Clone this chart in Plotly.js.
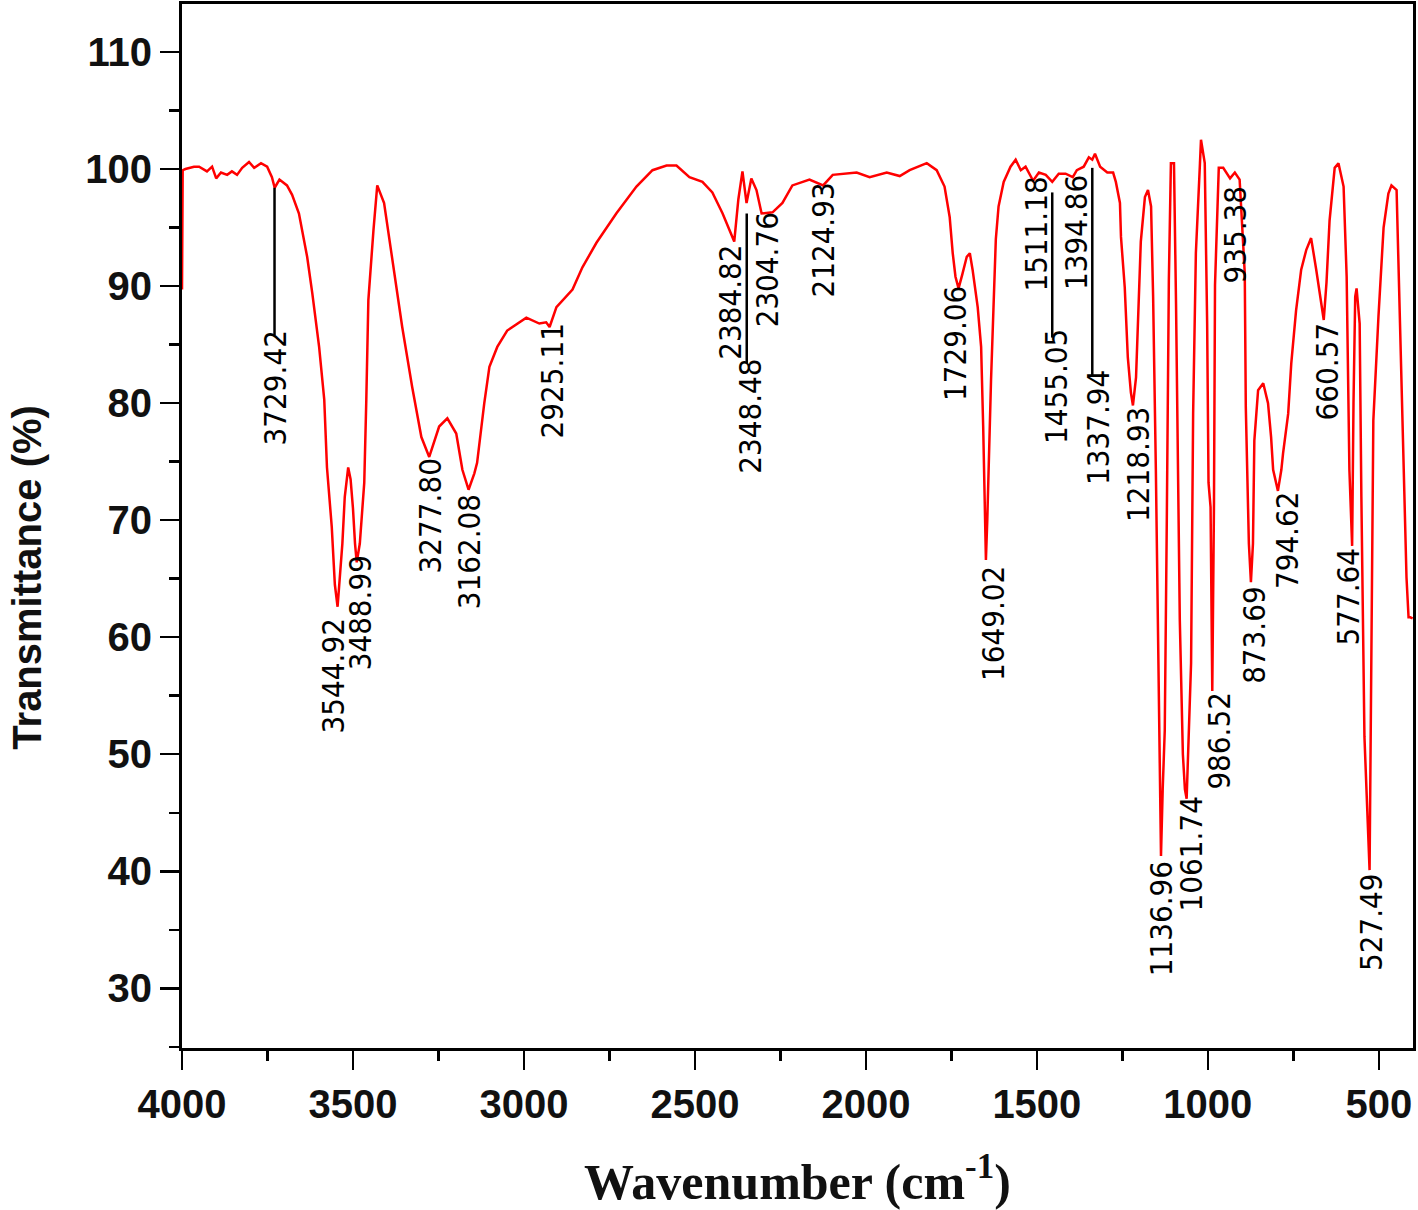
<!DOCTYPE html>
<html>
<head>
<meta charset="utf-8">
<script src="https://cdn.plot.ly/plotly-3.0.1.min.js"></script>
<style>
  html, body { margin: 0; padding: 0; background: #fff; }
  #ftir { width: 1418px; height: 1210px; }
</style>
</head>
<body>
<div id="ftir"></div>
<script>
// FTIR spectrum, values
var wavenumber = [
  4000, 3998, 3990, 3965, 3950, 3927, 3912, 3900, 3886, 3868, 3854, 3839, 3824, 3804, 3789, 3769, 3751, 3737,
  3729, 3715, 3693, 3678, 3658, 3649, 3634, 3619, 3599, 3584, 3576, 3562, 3553, 3545, 3538, 3531, 3524, 3514,
  3507, 3500, 3494, 3489, 3480, 3467, 3461, 3455, 3440, 3429, 3409, 3385, 3356, 3327, 3300, 3277, 3262, 3248,
  3224, 3198, 3180, 3162, 3145, 3137, 3116, 3101, 3078, 3049, 2993, 2955, 2935, 2925, 2905, 2858, 2829, 2788,
  2730, 2671, 2624, 2583, 2554, 2516, 2478, 2449, 2419, 2399, 2385, 2373, 2361, 2349, 2335, 2320, 2305, 2273,
  2244, 2215, 2165, 2125, 2097, 2027, 1989, 1939, 1901, 1872, 1822, 1793, 1770, 1755, 1746, 1738, 1729, 1718,
  1705, 1696, 1688, 1673, 1663, 1657, 1653, 1649, 1645, 1640, 1634, 1627, 1620, 1612, 1597, 1577, 1562, 1547,
  1533, 1511, 1494, 1474, 1455, 1436, 1416, 1395, 1383, 1363, 1348, 1338, 1330, 1315, 1294, 1277, 1269, 1257,
  1254, 1243, 1234, 1225, 1219, 1210, 1204, 1196, 1184, 1175, 1166, 1160, 1152, 1146, 1140, 1137, 1132, 1126,
  1120, 1114, 1108, 1099, 1093, 1082, 1073, 1067, 1062, 1056, 1049, 1043, 1035, 1023, 1020, 1009, 1002, 998,
  992, 987, 982, 979, 968, 955, 946, 935, 921, 907, 892, 889, 880, 874, 868, 864, 853, 838, 824, 815,
  809, 795, 785, 780, 765, 756, 742, 727, 712, 698, 683, 671, 661, 653, 644, 629, 618, 603, 594, 586,
  578, 574, 569, 565, 556, 551, 542, 527, 521, 516, 501, 486, 472, 463, 448, 442, 434, 425, 419, 413,
  408, 401
];
var transmittance = [
  89.7, 99.9, 100.0, 100.2, 100.2, 99.8, 100.2, 99.2, 99.7, 99.5, 99.8, 99.5, 100.1, 100.6, 100.1, 100.5, 100.2, 99.3,
  98.4, 99.1, 98.6, 97.8, 96.2, 94.8, 92.5, 89.4, 84.8, 80.3, 74.5, 69.4, 64.5, 62.6, 65.0, 68.0, 72.0, 74.5,
  73.5, 71.0, 68.0, 66.4, 68.0, 73.2, 80.3, 88.8, 94.8, 98.6, 97.1, 92.2, 86.5, 81.4, 77.1, 75.4, 76.8, 78.0,
  78.7, 77.4, 74.3, 72.6, 74.0, 74.9, 80.0, 83.1, 84.8, 86.2, 87.3, 86.8, 86.9, 86.5, 88.2, 89.7, 91.6, 93.7,
  96.2, 98.5, 99.9, 100.3, 100.3, 99.3, 98.9, 98.0, 96.2, 94.8, 93.8, 97.4, 99.8, 97.1, 99.2, 98.2, 96.2, 96.3,
  97.1, 98.6, 99.1, 98.6, 99.5, 99.7, 99.3, 99.7, 99.4, 99.9, 100.5, 99.9, 98.5, 95.9, 92.8, 90.8, 89.8, 91.0,
  92.5, 92.8, 91.4, 88.2, 84.8, 78.0, 72.0, 66.6, 70.0, 76.0, 82.0, 88.0, 94.0, 96.8, 98.9, 100.2, 100.8, 99.9,
  100.2, 99.0, 99.7, 99.5, 98.9, 99.6, 99.6, 99.3, 99.9, 100.2, 101.0, 100.8, 101.3, 100.2, 99.7, 99.7, 98.9, 97.1,
  94.2, 89.9, 83.9, 80.9, 79.8, 82.2, 87.4, 93.8, 97.6, 98.2, 96.8, 89.1, 74.3, 60.0, 50.0, 41.3, 47.0, 52.0,
  70.0, 90.5, 100.5, 100.5, 88.5, 61.5, 50.0, 47.0, 46.2, 52.0, 57.8, 79.1, 92.8, 100.5, 102.5, 100.5, 86.8, 73.2,
  71.1, 55.4, 71.5, 90.1, 100.1, 100.1, 99.7, 99.2, 99.7, 99.1, 91.1, 79.7, 68.0, 64.7, 68.0, 76.8, 81.1, 81.7, 80.0, 77.1,
  74.3, 72.5, 74.3, 75.7, 79.1, 83.4, 87.9, 91.4, 93.1, 94.1, 91.4, 89.1, 87.1, 90.3, 95.6, 100.1, 100.5, 98.5, 90.8, 74.3,
  67.8, 80.0, 89.1, 89.8, 86.8, 72.0, 51.5, 40.1, 60.6, 78.5, 87.4, 95.0, 97.9, 98.6, 98.2, 91.4, 83.9, 74.3, 65.1, 61.7,
  61.7, 61.6
];

// peak labels
var peakLabels = ['3729.42', '3544.92', '3488.99', '3277.80', '3162.08', '2925.11', '2384.82', '2348.48', '2304.76',
  '2124.93', '1729.06', '1649.02', '1511.18', '1455.05', '1394.86', '1337.94', '1218.93', '1136.96', '1061.74',
  '986.52', '935.38', '873.69', '794.62', '660.57', '577.64', '527.49'];
// where each label sits (centre, in % units) and small sideways nudges in px
var labelY = [81.3, 56.7, 62.1, 70.4, 67.3, 81.9, 88.6, 78.9, 91.4, 93.9, 85.1, 61.2, 94.4, 81.4, 94.6, 77.9,
  74.8, 35.9, 41.5, 51.2, 94.4, 60.2, 68.3, 82.7, 63.5, 35.7];
var labelShift = [0, -5, 3, 2, 0, 2, -4, 3, 5, 0, -3, 7, 3, 3, 3, 5, 5, 0, 4, 7, 5, 3, 9, 3, -4, 1];

// leader lines from the curve to a label
var leaderPeaks = [3729.42, 2348.48, 1455.05, 1337.94];
var leaderTop = [98.4, 96.2, 98.0, 100.1];
var leaderBottom = [85.8, 83.4, 85.6, 82.4];

var labelFont = {family: 'Liberation Sans Narrow, DejaVu Sans Condensed, Liberation Sans, Arial', size: 31, color: '#000'};

var annotations = peakLabels.map(function (lab, i) {
  return {
    x: parseFloat(lab), y: labelY[i], xref: 'x', yref: 'y',
    text: lab, textangle: -90, showarrow: false,
    xanchor: 'center', yanchor: 'middle', xshift: labelShift[i],
    font: labelFont
  };
});

annotations.push({
  xref: 'paper', yref: 'paper', x: -0.1255, y: 0.451,
  xanchor: 'center', yanchor: 'middle', textangle: -90, showarrow: false,
  text: 'Transmittance (%)',
  font: {family: 'Liberation Sans, Arial', size: 40, color: '#111', weight: 'bold'}
});

var shapes = leaderPeaks.map(function (wn, i) {
  return {
    type: 'line', xref: 'x', yref: 'y',
    x0: wn, x1: wn, y0: leaderTop[i], y1: leaderBottom[i],
    line: {color: '#000', width: 2.5}
  };
});

var trace = {
  x: wavenumber,
  y: transmittance,
  type: 'scatter',
  mode: 'lines',
  line: {color: '#ff0000', width: 2.5},
  hoverinfo: 'x+y'
};

var layout = {
  width: 1418,
  height: 1210,
  margin: {l: 182, r: 5, t: 4, b: 162},
  paper_bgcolor: '#fff',
  plot_bgcolor: '#fff',
  showlegend: false,
  xaxis: {
    range: [4000, 400],
    tick0: 0, dtick: 500,
    ticks: 'outside', ticklen: 19, tickwidth: 2.5, tickcolor: '#000',
    minor: {dtick: 250, ticks: 'outside', ticklen: 10, tickwidth: 2.5, tickcolor: '#000'},
    showline: true, linewidth: 3, linecolor: '#000', mirror: true,
    showgrid: false, zeroline: false,
    tickfont: {family: 'Liberation Sans, Arial', size: 40, color: '#111', weight: 'bold'},
    title: {
      text: 'Wavenumber (cm<sup>-1</sup>)',
      font: {family: 'Liberation Serif, Times New Roman, serif', size: 50, color: '#111', weight: 'bold'},
      standoff: 40
    }
  },
  yaxis: {
    range: [24.9, 114.1],
    tick0: 0, dtick: 10,
    ticks: 'outside', ticklen: 19, tickwidth: 2.5, tickcolor: '#000',
    minor: {dtick: 5, ticks: 'outside', ticklen: 10, tickwidth: 2.5, tickcolor: '#000'},
    showline: true, linewidth: 3, linecolor: '#000', mirror: true,
    showgrid: false, zeroline: false,
    tickfont: {family: 'Liberation Sans, Arial', size: 40, color: '#111', weight: 'bold'}
  },
  annotations: annotations,
  shapes: shapes
};

Plotly.newPlot('ftir', [trace], layout, {displayModeBar: false, staticPlot: true});
</script>
</body>
</html>
